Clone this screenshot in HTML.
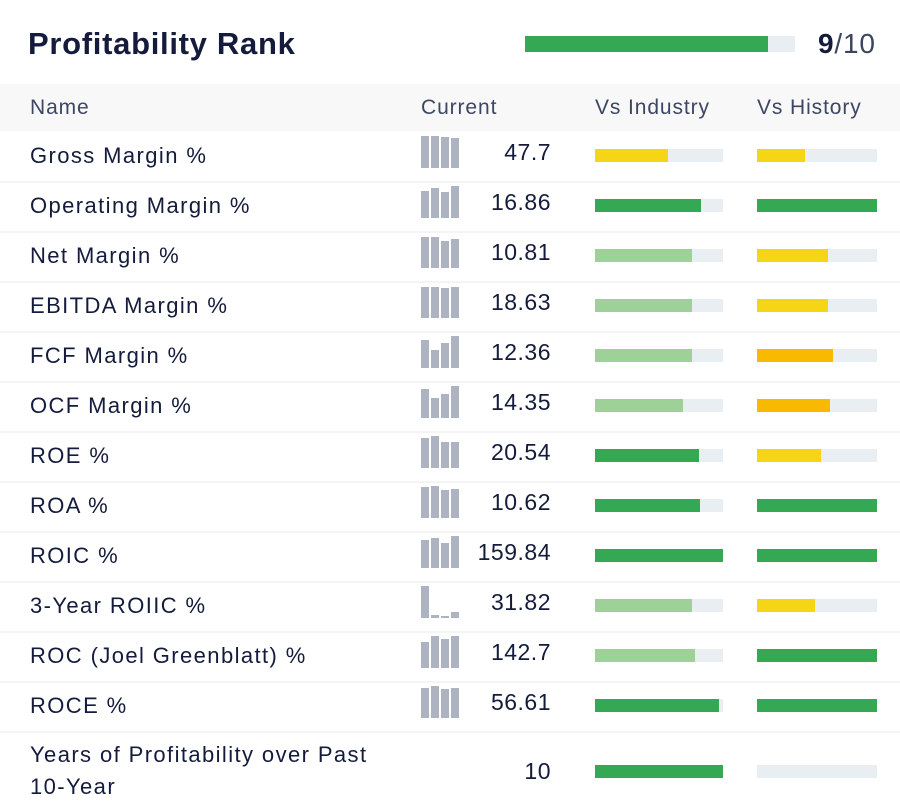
<!DOCTYPE html>
<html><head><meta charset="utf-8"><style>
body{margin:0;width:900px;height:808px;background:#fff;font-family:"Liberation Sans",sans-serif;color:#121a3a;overflow:hidden;position:relative}
.abs{position:absolute;white-space:nowrap}
.hd{font-size:21px;letter-spacing:0.9px;color:#3d4764;top:96px}
</style></head><body>
<div class="abs" style="left:28px;top:26px;font-size:31px;letter-spacing:0.7px;font-weight:bold;color:#141b3c">Profitability Rank</div>
<div class="abs" style="left:525px;top:36px;width:270px;height:16px;background:#e9eef3"></div>
<div class="abs" style="left:525px;top:36px;width:243px;height:16px;background:#34a853"></div>
<div class="abs" style="left:818px;top:28px;font-size:28px;letter-spacing:0.8px;color:#3b4561"><b style="color:#141b3c">9</b>/10</div>
<div class="abs" style="left:0;top:84px;width:900px;height:47px;background:#f8f8f8"></div>
<div class="abs hd" style="left:30px">Name</div>
<div class="abs hd" style="left:421px">Current</div>
<div class="abs hd" style="left:595px">Vs Industry</div>
<div class="abs hd" style="left:757px">Vs History</div>
<div id="rows"></div>
<script>
const names=["Gross Margin %","Operating Margin %","Net Margin %","EBITDA Margin %","FCF Margin %","OCF Margin %","ROE %","ROA %","ROIC %","3-Year ROIIC %","ROC (Joel Greenblatt) %","ROCE %","Years of Profitability over Past<br>10-Year"];
const values=["47.7","16.86","10.81","18.63","12.36","14.35","20.54","10.62","159.84","31.82","142.7","56.61","10"];
const spark=[[32,32,31,30],[27,30,26,32],[31,31,27,29],[31,31,30,31],[28,18,25,32],[29,20,24,32],[30,32,26,26],[31,32,28,29],[28,30,25,32],[32,3,2,6],[26,32,29,32],[30,32,29,30],[0,0,0,0]];
const industry=[0.57,0.83,0.76,0.76,0.76,0.69,0.81,0.82,1,0.76,0.78,0.97,1];
const industryColor=["y","g","l","l","l","l","g","g","g","l","l","g","g"];
const history=[0.4,1,0.59,0.59,0.63,0.61,0.53,1,1,0.48,1,1,0];
const historyColor=["y","g","y","y","o","o","y","g","g","y","g","g","g"];
const C={g:"#34a853",l:"#9dd198",y:"#f6d516",o:"#f8ba00"};
const root=document.getElementById('rows');
function div(css){const d=document.createElement('div');d.className='abs';d.style.cssText=css;root.appendChild(d);return d;}
names.forEach((n,i)=>{
  const top=131+i*50, cy=top+24;
  if(i>0){const s=div(`left:0;top:${top}px;width:900px;height:2px;background:#f4f4f4`);
  
  }
  const last=i===names.length-1;
  const nm=div(`left:30px;top:${last?top+8:cy-15}px;font-size:22px;letter-spacing:1.4px;line-height:32px;color:#141b3c`);nm.innerHTML=n;
  
  
  spark[i].forEach((h,k)=>{if(!h)return;const b=div(`left:${421+k*10}px;top:${cy+13-h}px;width:8px;height:${h}px;background:#adb3c0`);
    
    });
  const v=div(`left:420px;width:131px;text-align:right;top:${(last?cy+19:cy)-16}px;font-size:23px;letter-spacing:0.5px;color:#141b3c`);v.textContent=values[i];
  
  
  const by=(last?cy+16:cy)-6;
  const t1=div(`left:595px;top:${by}px;width:128px;height:13px;background:#e9eef3`);
  
  
  const f1=div(`left:595px;top:${by}px;width:${128*industry[i]}px;height:13px;background:${C[industryColor[i]]}`);
  
  
  const t2=div(`left:757px;top:${by}px;width:120px;height:13px;background:#e9eef3`);
  
  
  const f2=div(`left:757px;top:${by}px;width:${120*history[i]}px;height:13px;background:${C[historyColor[i]]}`);
  
  
});
</script>
</body></html>
